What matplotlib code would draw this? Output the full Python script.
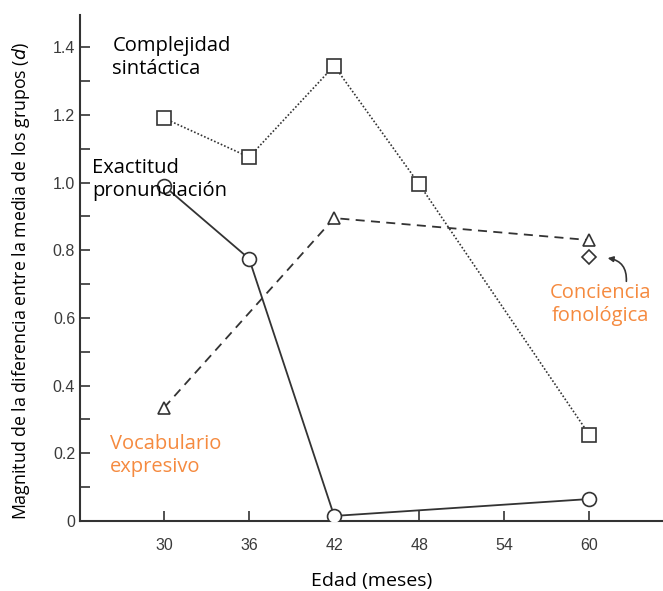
import numpy as np
import matplotlib.pyplot as plt
from matplotlib.ticker import MultipleLocator

# Edad (meses)
edad_sint = [30, 36, 42, 48, 60]
complejidad_sintactica = [1.19, 1.075, 1.345, 0.995, 0.255]

edad_pron = [30, 36, 42, 60]
exactitud_pronunciacion = [0.99, 0.775, 0.015, 0.065]

edad_voc = [30, 42, 60]
vocabulario_expresivo = [0.335, 0.895, 0.83]

edad_fon = [60]
conciencia_fonologica = [0.78]

x_ticks = [30, 36, 42, 48, 54, 60]
y_ticks = [0, 0.2, 0.4, 0.6, 0.8, 1.0, 1.2, 1.4]
y_ticklabels = ["0", "0.2", "0.4", "0.6", "0.8", "1.0", "1.2", "1.4"]

orange = "#F58A3F"
ink = "#333333"

fig = plt.figure(figsize=(6.63, 5.91), dpi=100)
ax = fig.add_axes([0.1207, 0.1184, 0.8793, 0.8562])

mk = dict(markerfacecolor="white", markeredgecolor=ink, markeredgewidth=1.2, color=ink, zorder=3)
ax.plot(edad_sint, complejidad_sintactica, linestyle=(0, (1, 1.2)), lw=1.2, marker="s", markersize=9.5, **mk)
ax.plot(edad_pron, exactitud_pronunciacion, linestyle="-", lw=1.3, marker="o", markersize=10, **mk)
ax.plot(edad_voc, vocabulario_expresivo, linestyle=(0, (5, 3.5)), lw=1.3, marker="^", markersize=9, **mk)
ax.plot(edad_fon, conciencia_fonologica, linestyle="none", marker="D", markersize=7, **mk)

lbl = dict(fontsize=14.5, family="Open Sans", va="center", linespacing=1.2)
ax.text(26.35, 1.37, "Complejidad\nsintáctica", ha="left", color="black", **lbl)
ax.text(24.9, 1.01, "Exactitud\npronunciación", ha="left", color="black", **lbl)
ax.text(26.2, 0.195, "Vocabulario\nexpresivo", ha="left", color=orange, **lbl)
ax.text(60.8, 0.64, "Conciencia\nfonológica", ha="center", color=orange, **lbl)
ax.annotate("", xy=(61.1, 0.778), xytext=(62.6, 0.70),
            arrowprops=dict(arrowstyle="-|>", color=ink, lw=1.2, mutation_scale=8,
                            connectionstyle="arc3,rad=0.5"))

ax.set_xlim(24.07, 65.2)
ax.set_ylim(0, 1.495)
ax.set_xticks(x_ticks)
ax.set_yticks(y_ticks)
ax.set_yticklabels(y_ticklabels)
ax.yaxis.set_minor_locator(MultipleLocator(0.1))
ax.tick_params(direction="in", length=7, width=1.2, colors=ink, labelsize=11.5, labelcolor="#3a3a3a")
ax.tick_params(axis="y", which="minor", direction="in", length=7, width=1.2, colors=ink)
ax.tick_params(axis="x", pad=12)
for lab in ax.get_xticklabels() + ax.get_yticklabels():
    lab.set_family("Liberation Sans")

ax.spines["top"].set_visible(False)
ax.spines["right"].set_visible(False)
ax.spines["left"].set_linewidth(1.5)
ax.spines["bottom"].set_linewidth(1.5)
ax.spines["left"].set_color(ink)
ax.spines["bottom"].set_color(ink)

ax.set_xlabel("Edad (meses)", fontsize=14, family="Open Sans", labelpad=14)
ax.set_ylabel(r"Magnitud de la diferencia entre la media de los grupos ($d$)",
              fontsize=12.8, family="Open Sans", labelpad=4)
ax.yaxis.set_label_coords(-0.082, 0.475)

fig.savefig("out.png", dpi=100)
